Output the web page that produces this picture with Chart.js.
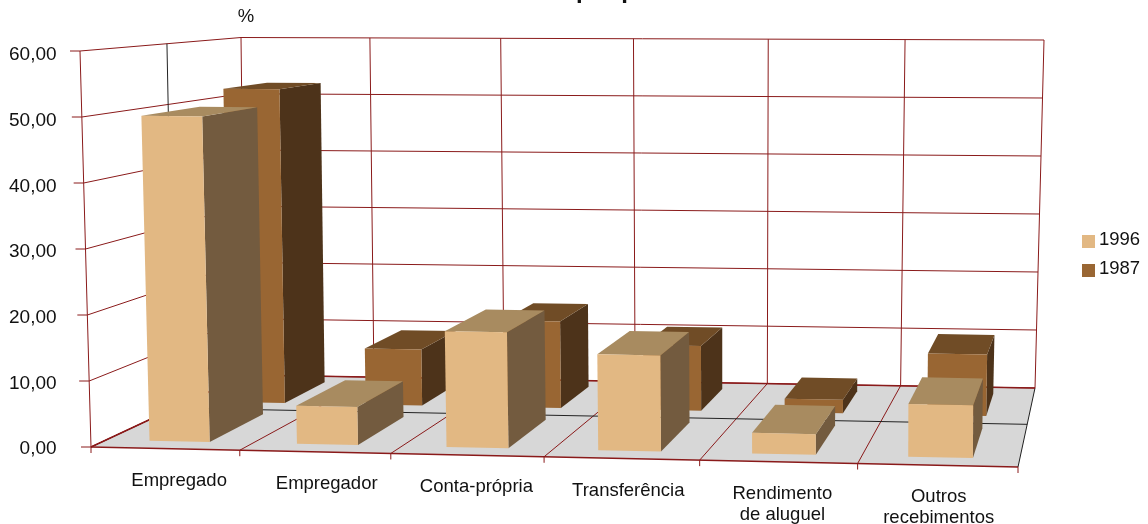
<!DOCTYPE html>
<html>
<head>
<meta charset="utf-8">
<style>html,body{margin:0;padding:0;background:#fff}canvas{display:block}</style>
<script src="https://cdn.jsdelivr.net/npm/chart.js@4"></script>
</head>
<body>
<canvas id="c" width="1148" height="524"></canvas>
<script>
const categories = ['Empregado','Empregador','Conta-própria','Transferência',['Rendimento','de aluguel'],['Outros','recebimentos']];
const values1996 = [49.9, 5.8, 17.6, 14.5, 3.1, 7.9];
const values1987 = [52.3, 9.3, 14.3, 10.6, 2.2, 10.0];
const seriesNames = ['1996','1987'];
const FONT = 'Arial, "Liberation Sans", sans-serif';

// view: screen corners of the 3D box (u: left-right, z: front-back, v: bottom-top)
const box = {
  f0:[91,447], f1:[1018,467], b0:[245,375], b1:[1035,388],
  F0:[80,51],  F1:[1020,59],  B0:[241,37.5], B1:[1044,40]
};
const faces = [
  {front:'#E2B883', top:'#A88B60', side:'#735B3F', depth:[0.10,0.48]},
  {front:'#996633', top:'#704C26', side:'#4D331A', depth:[0.636,0.92]}
];
const RED = '#8a1a1a';
const lerp = (a,b,t)=>a+(b-a)*t;
function project(u,z,v){
  const k = 1.046-0.021*z*(1-v);
  const t = u/(u+k*(1-u));
  const out=[];
  for(const i of [0,1]){
    const lo = lerp(lerp(box.f0[i],box.f1[i],t),lerp(box.b0[i],box.b1[i],t),z);
    const hi = lerp(lerp(box.F0[i],box.F1[i],t),lerp(box.B0[i],box.B1[i],t),z);
    out.push(lerp(lo,hi,v));
  }
  return out;
}
function line(ctx,a,b,color,w){
  ctx.strokeStyle=color;ctx.lineWidth=w||1;ctx.beginPath();ctx.moveTo(a[0],a[1]);ctx.lineTo(b[0],b[1]);ctx.stroke();
}
function poly(ctx,pts,color){
  ctx.fillStyle=color;ctx.beginPath();pts.forEach((p,i)=>i?ctx.lineTo(p[0],p[1]):ctx.moveTo(p[0],p[1]));ctx.closePath();ctx.fill();
}
const scene = {
  id:'scene',
  beforeDatasetsDraw(chart){
    const ctx=chart.ctx, area=chart.chartArea, y=chart.scales.y, x=chart.scales.x;
    const n=categories.length;
    const vOf=px=>(area.bottom-px)/(area.bottom-area.top);
    const uOf=px=>(px-x.left)/(x.right-x.left);
    ctx.save();
    // floor
    poly(ctx,[project(0,0,0),project(1,0,0),project(1,1,0),project(0,1,0)],'#D7D7D7');
    // value gridlines on left and back walls, with tick stubs
    y.ticks.forEach(t=>{
      const v=vOf(y.getPixelForValue(t.value));
      const a=project(0,0,v), b=project(0,1,v), c=project(1,1,v);
      line(ctx,[a[0]-10,a[1]],a,RED);
      line(ctx,a,b,RED);
      line(ctx,b,c,RED);
    });
    // category lines
    for(let i=0;i<=n;i++){
      const u=i/n;
      const a=project(u,0,0), b=project(u,1,0), c=project(u,1,1);
      line(ctx,[a[0],a[1]+6],a,RED);
      if(i<n) line(ctx,a,b,RED);
      line(ctx,b,c,RED);
    }
    // left wall front edge, floor outline
    line(ctx,project(0,0,0),project(0,0,1),RED);
    line(ctx,project(0,0,0),project(0,1,0),RED,1.5);
    line(ctx,project(0,0,0),project(1,0,0),RED,1.5);
    line(ctx,project(1,0,0),project(1,1,0),'#202020');
    line(ctx,project(0,1,0),project(1,1,0),RED,1.5);
    // depth divider
    const mid=0.54;
    line(ctx,project(0,mid,1),project(0,mid,0),'#222');
    line(ctx,project(0,mid,0),project(1,mid,0),'#222');
    // bars, back row first
    for(let d=chart.data.datasets.length-1;d>=0;d--){
      const meta=chart.getDatasetMeta(d), f=faces[d];
      const [z0,z1]=f.depth;
      meta.data.forEach(el=>{
        const u0=uOf(el.x-el.width/2), u1=uOf(el.x+el.width/2);
        const v0=vOf(el.base), v1=vOf(el.y);
        poly(ctx,[project(u1,z0,v0),project(u1,z1,v0),project(u1,z1,v1),project(u1,z0,v1)],f.side);
        poly(ctx,[project(u0,z0,v1),project(u1,z0,v1),project(u1,z1,v1),project(u0,z1,v1)],f.top);
        poly(ctx,[project(u0,z0,v0),project(u1,z0,v0),project(u1,z0,v1),project(u0,z0,v1)],f.front);
      });
    }
    // category labels
    ctx.fillStyle='#111';ctx.font='18.5px '+FONT;ctx.textAlign='center';ctx.textBaseline='middle';
    categories.forEach((lab,i)=>{
      const u=(i+0.5)/n;
      const px=project(u,0.09,0)[0]+1-i*0.5, py=project(u,0,0)[1]+32;
      (Array.isArray(lab)?lab:[lab]).forEach((s,j)=>ctx.fillText(s,px,py+j*21));
    });
    // legend
    ctx.textAlign='left';
    chart.data.datasets.forEach((ds,i)=>{
      const top=235+i*29;
      ctx.fillStyle=ds.backgroundColor;ctx.fillRect(1082,top,13,13);
      ctx.fillStyle='#111';ctx.fillText(ds.label,1099,top+5);
    });
    // unit and clipped title
    ctx.textAlign='center';
    ctx.fillText('%',246,17);
    ctx.font='bold 24px '+FONT;ctx.textAlign='left';ctx.textBaseline='alphabetic';
    ctx.fillText('por p',576,-2);
    ctx.restore();
    return false;
  }
};
new Chart(document.getElementById('c'),{
  type:'bar',
  data:{labels:categories,datasets:[
    {label:seriesNames[0],data:values1996,backgroundColor:faces[0].front},
    {label:seriesNames[1],data:values1987,backgroundColor:faces[1].front}
  ]},
  plugins:[scene],
  options:{
    responsive:false,animation:false,
    datasets:{bar:{grouped:false,categoryPercentage:1,barPercentage:0.41}},
    layout:{padding:{left:9,right:90,top:55,bottom:75}},
    plugins:{
      title:{display:false},tooltip:{enabled:false},legend:{display:false}
    },
    scales:{
      x:{display:false},
      y:{min:0,max:60,grid:{display:false},border:{display:false},
         ticks:{stepSize:10,padding:0,color:'#111',font:{size:19,family:FONT},callback:v=>v.toFixed(2).replace('.',',')}}
    }
  }
});
</script>
</body>
</html>
